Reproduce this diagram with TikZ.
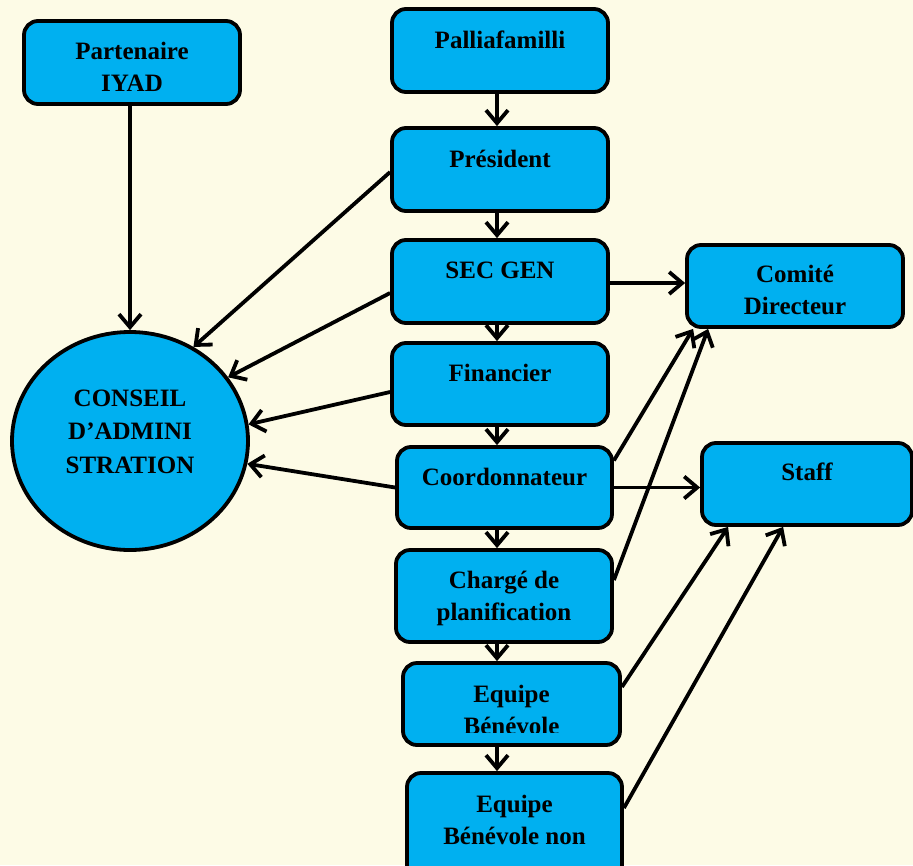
\documentclass[tikz,border=0pt]{standalone}
\usepackage{fontspec}
\setmainfont{Liberation Serif}
\usetikzlibrary{arrows.meta,shapes.geometric,calc}
\definecolor{bgc}{RGB}{253,251,230}
\definecolor{boxc}{RGB}{0,176,240}
\newcommand{\twol}[2]{\begin{tabular}[t]{@{}c@{}}#1\\#2\end{tabular}}
\tikzset{
  box/.style={draw=black, fill=boxc, line width=3.8pt, rounded corners=14pt,
    minimum width=216pt, minimum height=83pt, inner sep=0pt},
  txt/.style={font=\bfseries\fontsize{25}{32}\selectfont, anchor=base, inner sep=0pt},
  arr/.style={draw=black, line width=3.8pt, -{Straight Barb[length=13pt,width=22pt]}}
}
\begin{document}
\begin{tikzpicture}[x=1pt,y=-1pt]
\useasboundingbox (0,0) rectangle (913,865);
\fill[bgc] (0,0) rectangle (913,865);
\clip (0,0) rectangle (913,865);

% boxes
\node[box] (part) at (132,62.5) {};
\node[box] (pal) at (500,50.5) {};
\node[box] (pres) at (500,169.5) {};
\node[box] (sec) at (500,281.5) {};
\node[box, minimum height=82pt] (fin) at (500,384) {};
\node[box, minimum width=215pt, minimum height=81pt] (coord) at (504.5,487.5) {};
\node[box, minimum height=92pt] (charge) at (504,596) {};
\node[box, minimum width=217pt, minimum height=82pt] (equ) at (511.5,704) {};
\node[box, minimum width=215pt, minimum height=110pt] (equn) at (514.5,828) {};
\node[box, minimum height=82pt] (comite) at (795,286) {};
\node[box, minimum width=210pt, minimum height=82pt] (staff) at (807,484) {};
\node[ellipse, draw=black, fill=boxc, line width=3.8pt, minimum width=236pt,
  minimum height=218pt, inner sep=0pt] (cons) at (130,441) {};

% texts
\begin{scope}
\clip (20,15) rectangle (245,92);
\node[txt] (tpart) at (132,59) {\twol{Partenaire}{IYAD}};
\end{scope}
\node[txt] (tpal) at (500,48) {Palliafamilli};
\node[txt] (tpres) at (500,167) {Président};
\node[txt] (tsec) at (500,278) {SEC GEN};
\node[txt] (tfin) at (500,381) {Financier};
\node[txt] (tcoord) at (504.5,485) {Coordonnateur};
\node[txt] (tcharge) at (504,588) {\twol{Chargé de}{planification}};
\begin{scope}
\clip (400,660) rectangle (625,732);
\node[txt] (tequ) at (511.5,702) {\twol{Equipe}{Bénévole}};
\end{scope}
\node[txt] (tequn) at (514.5,812) {\twol{Equipe}{Bénévole non}};
\begin{scope}
\clip (680,240) rectangle (910,314);
\node[txt] (tcom) at (795,282) {\twol{Comité}{Directeur}};
\end{scope}
\node[txt] (tstaff) at (807,480) {Staff};
\node[txt, font=\bfseries\fontsize{25}{33.5}\selectfont] (tcons) at (130,406)
  {\begin{tabular}[t]{@{}c@{}}CONSEIL\\D’ADMINI\\STRATION\end{tabular}};

% vertical chain
\coordinate (vx) at (497,0);
\draw[arr] (pal.south -| vx) -- (pres.north -| vx);
\draw[arr] (pres.south -| vx) -- (sec.north -| vx);
\draw[arr] (sec.south -| vx) -- (fin.north -| vx);
\draw[arr] (fin.south -| vx) -- (coord.north -| vx);
\draw[arr] (coord.south -| vx) -- (charge.north -| vx);
\draw[arr] (charge.south -| vx) -- (equ.north -| vx);
\draw[arr] (equ.south -| vx) -- (equn.north -| vx);

% to conseil
\draw[arr] (part.south -| cons.north) -- (cons.north);
\draw[arr] ([yshift=-2.5pt]pres.west) -- (cons.56);
\draw[arr] ([yshift=-11.5pt]sec.west) -- (cons.33);
\draw[arr] ([yshift=-8pt]fin.west) -- (cons.8);
\draw[arr] (coord.west) -- (cons.-11);

% to the right
\draw[arr] ([yshift=-1.5pt]sec.east) -- ([yshift=-1.5pt]sec.east -| comite.west);
\draw[arr] (coord.east) -- (coord.east -| staff.west);
\draw[arr] ([yshift=27pt]coord.east) -- ([xshift=8pt]comite.south west);
\draw[arr] ([yshift=16pt]charge.east) -- ([xshift=23pt]comite.south west);
\draw[arr] ([yshift=17pt]equ.east) -- ([xshift=28pt]staff.south west);
\draw[arr] ([yshift=20pt]equn.east) -- ([xshift=83pt]staff.south west);
\end{tikzpicture}
\end{document}
